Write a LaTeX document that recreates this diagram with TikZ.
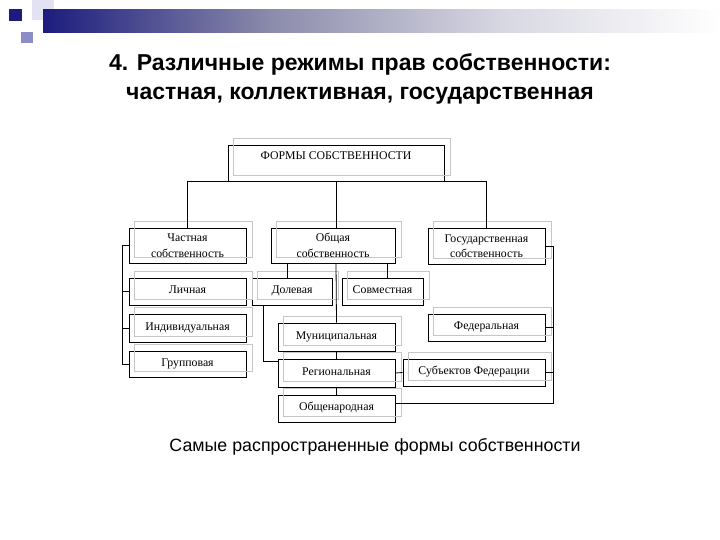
\documentclass[tikz,border=0pt]{standalone}
\usepackage{fontspec}
\setmainfont{Liberation Serif}
\newfontfamily\arialfont{Liberation Sans}
\usetikzlibrary{calc, positioning}
\definecolor{navybar}{RGB}{28,28,125}
\definecolor{midbar}{RGB}{140,140,172}
\definecolor{lightbar}{RGB}{215,215,226}
\definecolor{lavsq}{RGB}{226,226,242}
\definecolor{purplesq}{RGB}{140,140,200}
\tikzset{
	formbox/.style={draw, line width=0.8pt, inner sep=0pt, align=center, font=\fontsize{11.8}{15.5}\selectfont}
}
\tikzset{
	oneline/.style={formbox, text height=8.5pt, text depth=4.5pt}
}
\tikzset{
	twoline/.style={formbox, text depth=0pt}
}
\tikzset{
	shadowframe/.style={draw=gray!45, line width=0.7pt}
}
\tikzset{
	titletext/.style={align=center, font=\arialfont\bfseries\fontsize{23}{29}\selectfont}
}
\tikzset{
	captiontext/.style={font=\arialfont\fontsize{17.8}{20}\selectfont}
}

\begin{document}
\begin{tikzpicture}[x=1pt, y=-1pt]
      \useasboundingbox[fill=white] (0,0) rectangle (720,540);
      % header squares and fading bar
      \fill[lavsq] (32,0) rectangle (54,20);
      \fill[navybar] (9,9) rectangle (22,21);
      \fill[purplesq] (21,32) rectangle (33,43);
      \shade[left color=navybar, right color=midbar] (43,10) rectangle (273,33);
      \shade[left color=midbar, right color=lightbar] (273,10) rectangle (500,33);
      \shade[left color=lightbar, right color=white] (500,10) rectangle (720,33);

      \node[titletext] (title) at (360,79) {4. Различные режимы прав собственности:\\частная, коллективная, государственная};

      \node[formbox, minimum width=216, minimum height=36, text height=8.5pt, text depth=16pt] (forms) at (336,163) {ФОРМЫ СОБСТВЕННОСТИ};

      \node[twoline, minimum width=117, minimum height=35] (chast) at (187.5,245.5) {Частная\\собственность};
      \node[twoline, minimum width=124, minimum height=35] (obsh) at (333,245.5) {Общая\\собственность};
      \node[twoline, minimum width=117, minimum height=36] (gos) at (486.5,246) {Государственная\\собственность};

      \node[oneline, minimum width=117, minimum height=27] (lich) at (187.5,291.5) {Личная};
      \node[oneline, minimum width=117, minimum height=28] (indiv) at (187.5,328) {Индивидуальная};
      \node[oneline, minimum width=117, minimum height=26] (grupp) at (187.5,364) {Групповая};

      \node[oneline, minimum width=80, minimum height=27] (dolev) at (292,291.5) {Долевая};
      \node[oneline, minimum width=81, minimum height=27] (sovm) at (382.5,291.5) {Совместная};

      \node[oneline, minimum width=117, minimum height=28] (munic) at (336.5,337) {Муниципальная};
      \node[oneline, minimum width=117, minimum height=28] (region) at (336.5,373) {Региональная};
      \node[oneline, minimum width=117, minimum height=27] (obshnar) at (336.5,408.5) {Общенародная};

      \node[oneline, minimum width=117, minimum height=27] (fed) at (486.5,327.5) {Федеральная};
      \node[oneline, minimum width=142, minimum height=27] (subj) at (474,372.5) {Субъектов Федерации};

      \foreach \n in {forms, chast, obsh, gos, lich, indiv, grupp, dolev, sovm, munic, region, obshnar, fed, subj}
        \draw[shadowframe] ([shift={(6,-6)}]\n.south west) rectangle ([shift={(6,-6)}]\n.north east);

      \begin{scope}[line width=0.8pt]
      \draw (chast.north) |- (forms.south west);
      \draw (gos.north) |- (forms.south east);
      \draw (forms.south) -- (forms.south |- obsh.north);
      \draw ([xshift=-46]obsh.south) -- ([xshift=-46]obsh.south |- dolev.north);
      \draw ([xshift=54]obsh.south) -- ([xshift=54]obsh.south |- sovm.north);
      \draw (forms.south |- obsh.south) -- (munic.north);
      \draw (munic) -- (region);
      \draw (region) -- (obshnar);
      \draw ([xshift=-29]dolev.south) |- ([yshift=12]region.west);
      \draw (region.east) -- (subj.west);
      % brackets on both sides
      \draw (chast.west) -- ++(-6,0) |- (grupp.west);
      \draw (lich.west) -- ++(-6,0);
      \draw (indiv.west) -- ++(-6,0);
      \draw (gos.east) -- ++(8,0) |- ([yshift=5]obshnar.east);
      \draw (fed.east) -- ++(8,0);
      \draw (subj.east) -- ++(8,0);
      \end{scope}

      \node[captiontext] (caption) at (375,447) {Самые распространенные формы собственности};
\end{tikzpicture}
\end{document}
